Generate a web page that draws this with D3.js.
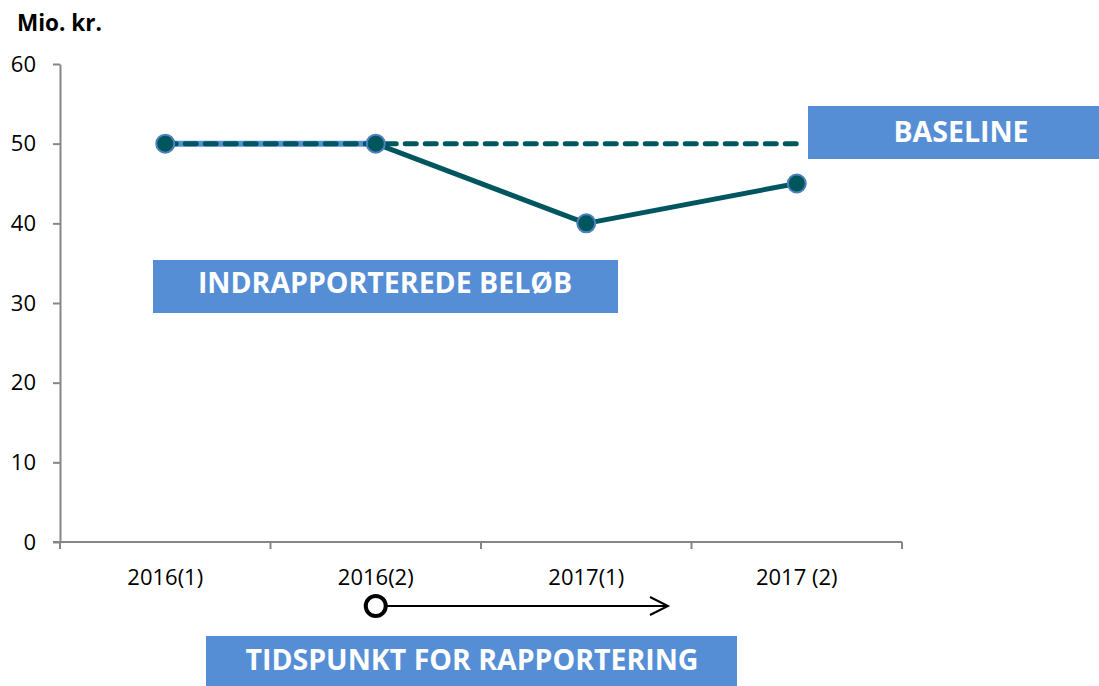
<!DOCTYPE html>
<html>
<head>
<meta charset="utf-8">
<script src="https://cdn.jsdelivr.net/npm/d3@7"></script>
<style>
  body { margin: 0; background: #fff; }
  svg { display: block; font-family: "Open Sans", "Noto Sans", sans-serif; }
</style>
</head>
<body>
<div id="chart"></div>
<script>
// data
var categories = ["2016(1)", "2016(2)", "2017(1)", "2017 (2)"];
var reported = [50, 50, 40, 45];
var baseline = [50, 50, 50, 50];
var yTicks = [0, 10, 20, 30, 40, 50, 60];

var width = 1099, height = 686;
var margin = {top: 64, left: 60, right: 197, bottom: 144};
var teal = "#00565F", blue = "#558ED5";

var svg = d3.select("#chart").append("svg")
  .attr("width", width)
  .attr("height", height);

var x = d3.scaleBand()
  .domain(categories)
  .range([margin.left, width - margin.right]);

var y = d3.scaleLinear()
  .domain([0, 60])
  .range([height - margin.bottom, margin.top]);

var cx = function(d) { return x(d) + x.bandwidth() / 2; };

// trục y
var yAxis = svg.append("g")
  .attr("transform", "translate(" + margin.left + ",0)")
  .call(d3.axisLeft(y).tickValues(yTicks).tickSize(7).tickSizeOuter(0).tickPadding(17));
yAxis.selectAll("path, line").attr("stroke", "#868686").attr("stroke-width", 2);
yAxis.selectAll("text").attr("font-size", "22px").attr("fill", "#000")
  .attr("font-family", "Open Sans");

// trục x: vạch ở ranh giới các nhóm
var xAxis = svg.append("g")
  .attr("transform", "translate(0," + y(0) + ")");
xAxis.append("line")
  .attr("x1", margin.left - 7).attr("x2", width - margin.right)
  .attr("stroke", "#868686").attr("stroke-width", 2);
var bounds = categories.map(function(d) { return x(d); }).concat([x.range()[1]]);
xAxis.selectAll(".tk").data(bounds).enter().append("line")
  .attr("x1", function(d) { return d; }).attr("x2", function(d) { return d; })
  .attr("y1", 0).attr("y2", 7)
  .attr("stroke", "#868686").attr("stroke-width", 2);
xAxis.selectAll(".lbl").data(categories).enter().append("text")
  .attr("x", cx).attr("y", 43)
  .attr("text-anchor", "middle")
  .attr("font-size", "22px")
  .text(function(d) { return d; });

// tiêu đề trục
svg.append("text")
  .attr("x", 17).attr("y", 31)
  .attr("font-size", "22.5px").attr("font-weight", "bold")
  .text("Mio. kr.");

// đường indrapporterede: đoạn đầu màu xanh, phần còn lại teal
var pts = categories.map(function(c, i) { return [cx(c), y(reported[i])]; });
svg.append("line")
  .attr("x1", pts[0][0]).attr("y1", pts[0][1])
  .attr("x2", pts[1][0]).attr("y2", pts[1][1])
  .attr("stroke", blue).attr("stroke-width", 6);
svg.append("path")
  .attr("d", d3.line()(pts.slice(1)))
  .attr("fill", "none").attr("stroke", teal).attr("stroke-width", 5)
  .attr("stroke-linejoin", "round");

// baseline nét đứt
svg.append("path")
  .attr("d", d3.line()(categories.map(function(c, i) { return [cx(c), y(baseline[i])]; })))
  .attr("fill", "none").attr("stroke", teal).attr("stroke-width", 5)
  .attr("stroke-dasharray", "11,9").attr("stroke-linecap", "round");

// điểm
svg.selectAll(".dot").data(pts).enter().append("circle")
  .attr("cx", function(d) { return d[0]; })
  .attr("cy", function(d) { return d[1]; })
  .attr("r", 9)
  .attr("fill", teal).attr("stroke", "#4F81BD").attr("stroke-width", 2);

// hộp nhãn
function box(x0, y0, w, h, label, tx, base) {
  svg.append("rect").attr("x", x0).attr("y", y0).attr("width", w).attr("height", h)
    .attr("fill", blue);
  svg.append("text")
    .attr("x", tx).attr("y", y0 + base)
    .attr("text-anchor", "middle")
    .attr("font-size", "28.5px").attr("font-weight", "bold")
    .attr("fill", "#fff")
    .text(label);
}
box(808, 106, 291, 53, "BASELINE", 961, 36);
box(153, 260, 465, 53, "INDRAPPORTEREDE BELØB", 385, 33);
box(206, 636, 531, 50, "TIDSPUNKT FOR RAPPORTERING", 472, 34);

// mũi tên thời điểm báo cáo
var ay = 606, ax0 = cx("2016(2)"), ax1 = 668;
svg.append("line")
  .attr("x1", ax0 + 9).attr("x2", ax1).attr("y1", ay).attr("y2", ay)
  .attr("stroke", "#000").attr("stroke-width", 2);
svg.append("path")
  .attr("d", "M" + (ax1 - 18) + "," + (ay - 9) + "L" + ax1 + "," + ay + "L" + (ax1 - 18) + "," + (ay + 9))
  .attr("fill", "none").attr("stroke", "#000").attr("stroke-width", 2);
svg.append("circle")
  .attr("cx", ax0).attr("cy", ay).attr("r", 10)
  .attr("fill", "#fff").attr("stroke", "#000").attr("stroke-width", 4);
</script>
</body>
</html>
